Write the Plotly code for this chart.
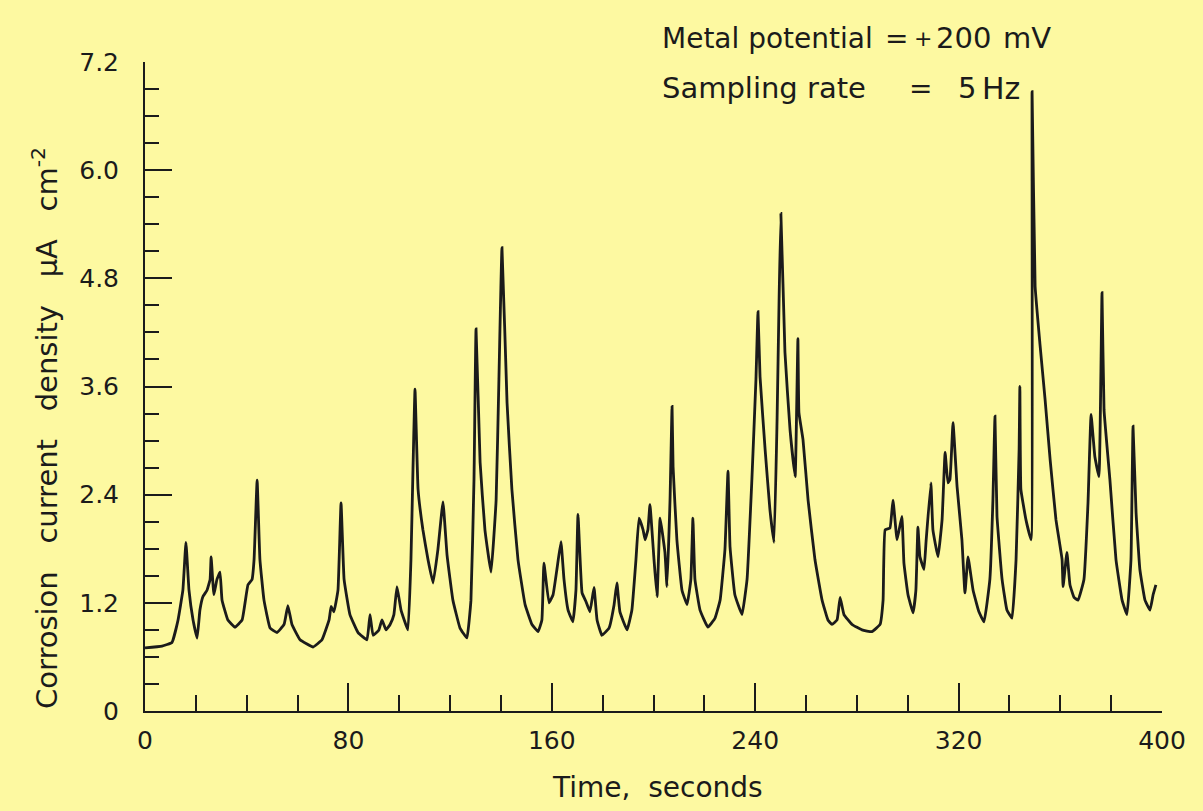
import plotly.graph_objects as go

# Time (s) and corrosion current density (uA cm^-2)
time_s = [
    0.0, 6.7, 10.6, 13.0, 14.9, 16.1, 17.3, 18.9, 20.5, 21.6, 22.8, 24.4, 25.6, 26.0, 27.1, 28.3,
    29.5, 30.3, 32.6, 35.4, 38.2, 40.5, 42.1, 42.9, 44.1, 45.2, 46.8, 49.2, 51.9, 54.7, 56.2, 57.8,
    61.0, 66.1, 69.6, 72.4, 73.2, 74.3, 75.9, 77.1, 78.3, 80.6, 83.8, 87.3, 88.5, 89.7, 92.0, 93.2,
    94.8, 96.4, 97.9, 99.1, 100.7, 103.4, 104.6, 105.4, 106.2, 107.4, 109.3, 111.3, 113.3, 115.2,
    117.2, 118.8, 121.1, 123.9, 126.6, 128.2, 129.4, 130.2, 131.8, 133.7, 136.1, 138.1, 139.2,
    140.4, 142.4, 144.3, 146.7, 149.5, 152.2, 154.6, 156.1, 156.9, 158.9, 160.5, 162.0, 163.6,
    164.8, 166.4, 168.3, 169.5, 170.3, 171.9, 173.5, 175.0, 176.6, 177.8, 179.7, 182.5, 184.5,
    185.6, 186.8, 189.6, 191.5, 193.1, 194.3, 195.9, 196.7, 197.8, 198.6, 200.2, 201.4, 202.6,
    204.5, 205.3, 206.5, 207.3, 207.7, 209.2, 211.2, 213.2, 214.7, 215.5, 216.3, 218.3, 221.4,
    224.2, 226.2, 228.1, 229.3, 230.1, 232.0, 234.8, 236.8, 238.7, 240.3, 241.1, 241.9, 243.9,
    245.8, 247.4, 248.6, 249.4, 250.1, 251.7, 253.7, 255.7, 256.8, 257.2, 258.8, 260.8, 263.5,
    266.3, 268.6, 270.2, 272.2, 273.4, 274.9, 278.1, 282.0, 285.9, 289.1, 290.3, 291.1, 293.0,
    294.2, 295.8, 297.7, 298.5, 300.1, 302.1, 303.2, 304.0, 304.8, 306.4, 307.2, 309.1, 309.9,
    311.9, 313.5, 314.7, 315.8, 316.6, 317.8, 319.4, 321.3, 322.5, 323.7, 325.7, 328.0, 330.0,
    332.3, 333.5, 334.3, 335.1, 337.1, 339.0, 341.0, 342.6, 343.8, 344.1, 344.5, 346.5, 348.5,
    348.9, 350.1, 352.0, 354.0, 356.0, 358.3, 360.7, 361.1, 362.6, 363.8, 365.4, 367.0, 369.3,
    370.9, 372.1, 373.6, 375.2, 376.4, 377.2, 379.5, 381.9, 384.3, 386.2, 387.8, 388.6, 389.8,
    391.3, 393.3, 395.3, 396.5, 397.6,
]
current_density = [
    0.70, 0.72, 0.76, 1.01, 1.34, 1.87, 1.34, 1.01, 0.81, 1.12, 1.27, 1.34, 1.46, 1.71, 1.29, 1.46,
    1.54, 1.23, 1.01, 0.93, 1.01, 1.40, 1.46, 1.68, 2.56, 1.68, 1.23, 0.92, 0.87, 0.96, 1.17, 0.96,
    0.79, 0.71, 0.79, 1.01, 1.16, 1.10, 1.34, 2.31, 1.46, 1.07, 0.87, 0.79, 1.07, 0.84, 0.90, 1.01,
    0.90, 0.96, 1.07, 1.38, 1.12, 0.90, 1.68, 2.68, 3.57, 2.46, 2.01, 1.68, 1.42, 1.79,
    2.32, 1.73, 1.23, 0.92, 0.81, 1.23, 2.57, 4.24, 2.76, 2.01, 1.54, 2.34, 3.68,
    5.14, 3.42, 2.46, 1.68, 1.18, 0.96, 0.88, 1.01, 1.64, 1.20, 1.29, 1.57, 1.88,
    1.46, 1.12, 0.99, 1.34, 2.18, 1.31, 1.21, 1.10, 1.37, 1.01, 0.84, 0.92, 1.18,
    1.42, 1.10, 0.90, 1.12, 1.68, 2.14, 2.01, 1.90, 2.01, 2.29, 1.68, 1.27, 2.14,
    1.76, 1.38, 2.34, 3.38, 2.71, 1.90, 1.34, 1.18, 1.46, 2.14, 1.46, 1.12, 0.93,
    1.03, 1.23, 1.79, 2.66, 1.82, 1.29, 1.07, 1.46, 2.57, 3.68, 4.43, 3.71, 2.90,
    2.23, 1.87, 3.23, 4.57, 5.52, 3.98, 3.12, 2.60, 4.13, 3.31, 3.01, 2.34, 1.68,
    1.23, 1.01, 0.96, 1.01, 1.26, 1.07, 0.96, 0.90, 0.88, 0.96, 1.23, 2.01, 2.03,
    2.34, 1.90, 2.16, 1.64, 1.29, 1.09, 1.34, 2.04, 1.71, 1.57, 1.88, 2.53, 2.01,
    1.71, 2.12, 2.87, 2.53, 2.57, 3.20, 2.49, 1.90, 1.31, 1.71, 1.34, 1.10, 0.99,
    1.46, 2.34, 3.27, 2.16, 1.46, 1.12, 1.03, 1.68, 2.90, 3.60, 2.46, 2.12, 1.90,
    6.87, 4.71, 4.07, 3.46, 2.79, 2.12, 1.68, 1.38, 1.76, 1.40, 1.26, 1.23, 1.46,
    2.31, 3.29, 2.82, 2.60, 4.64, 3.34, 2.57, 1.68, 1.23, 1.07, 1.68, 3.16, 2.20,
    1.57, 1.23, 1.12, 1.29, 1.40,
]

y_tick_vals = [0, 1.2, 2.4, 3.6, 4.8, 6.0, 7.2]
y_tick_text = ["0", "1.2", "2.4", "3.6", "4.8", "6.0", "7.2"]
x_tick_vals = [0, 80, 160, 240, 320, 400]
x_tick_text = ["0", "80", "160", "240", "320", "400"]

BG = "#fdf9a1"
INK = "#1b1b1b"
FONT = "DejaVu Sans"
NB = "\u00a0"

fig = go.Figure()
fig.add_trace(go.Scatter(
    x=time_s, y=current_density, mode="lines",
    line=dict(color=INK, width=2.8, shape="spline", smoothing=0.3),
    hoverinfo="skip", showlegend=False,
))

fig.update_layout(
    width=1203, height=811,
    margin=dict(l=145, r=41, t=62, b=100),
    paper_bgcolor=BG, plot_bgcolor=BG,
    font=dict(family=FONT, color=INK, size=25),
    showlegend=False,
)

fig.update_xaxes(
    range=[0, 400], showgrid=False, zeroline=False,
    showline=True, linecolor=INK, linewidth=2,
    tickmode="array", tickvals=x_tick_vals, ticktext=x_tick_text,
    ticks="inside", ticklen=28, tickwidth=2, tickcolor=INK,
    ticklabelstandoff=6,
    tickfont=dict(family=FONT, size=25, color=INK),
    minor=dict(tick0=0, dtick=20, ticks="inside", ticklen=16, tickwidth=2, tickcolor=INK, showgrid=False),
)
fig.update_yaxes(
    range=[0, 7.2], showgrid=False, zeroline=False,
    showline=True, linecolor=INK, linewidth=2,
    tickmode="array", tickvals=y_tick_vals, ticktext=y_tick_text,
    ticks="inside", ticklen=27, tickwidth=2, tickcolor=INK,
    ticklabelstandoff=19,
    tickfont=dict(family=FONT, size=25, color=INK),
    minor=dict(tick0=0, dtick=0.3, ticks="inside", ticklen=14, tickwidth=2, tickcolor=INK, showgrid=False),
)

def px_x(px):
    return (px - 145) / 1017.0

def px_y(py):
    return (711 - py) / 649.0

gap = NB * 3
annotations = [
    dict(text="Metal potential", x=px_x(660), y=px_y(38), xanchor="left", yanchor="middle"),
    dict(text="=", x=px_x(896), y=px_y(38), xanchor="center", yanchor="middle"),
    dict(text="+", x=px_x(923), y=px_y(38), xanchor="center", yanchor="middle", font=dict(size=22)),
    dict(text="200", x=px_x(934), y=px_y(38), xanchor="left", yanchor="middle", font=dict(size=29)),
    dict(text="mV", x=px_x(1001), y=px_y(38), xanchor="left", yanchor="middle", font=dict(size=29)),
    dict(text="Sampling rate", x=px_x(660), y=px_y(88), xanchor="left", yanchor="middle", font=dict(size=29)),
    dict(text="=", x=px_x(920), y=px_y(88), xanchor="center", yanchor="middle"),
    dict(text="5", x=px_x(956), y=px_y(88), xanchor="left", yanchor="middle", font=dict(size=29)),
    dict(text="Hz", x=px_x(980), y=px_y(88), xanchor="left", yanchor="middle", font=dict(size=30)),
    dict(text="Time," + NB * 2 + "seconds", x=px_x(657), y=px_y(788), xanchor="center", yanchor="middle",
         font=dict(size=28)),
    dict(text="Corrosion" + gap + "current" + gap + "density" + gap + "\u03bcA" + gap
         + "cm<sup>-2</sup>",
         x=px_x(45), y=px_y(428), xanchor="center", yanchor="middle", textangle=-90,
         font=dict(size=29)),
]
for a in annotations:
    a.setdefault("font", dict(size=28))
    a["font"] = dict(family=FONT, color=INK, **a["font"])
    fig.add_annotation(xref="paper", yref="paper", showarrow=False, **a)

fig.write_html(
    "out.html",
    config={"displayModeBar": False},
    post_script=(
        "document.body.style.margin='0';"
        "document.body.style.background='" + BG + "';"
        "document.body.style.overflow='hidden';"
    ),
)
